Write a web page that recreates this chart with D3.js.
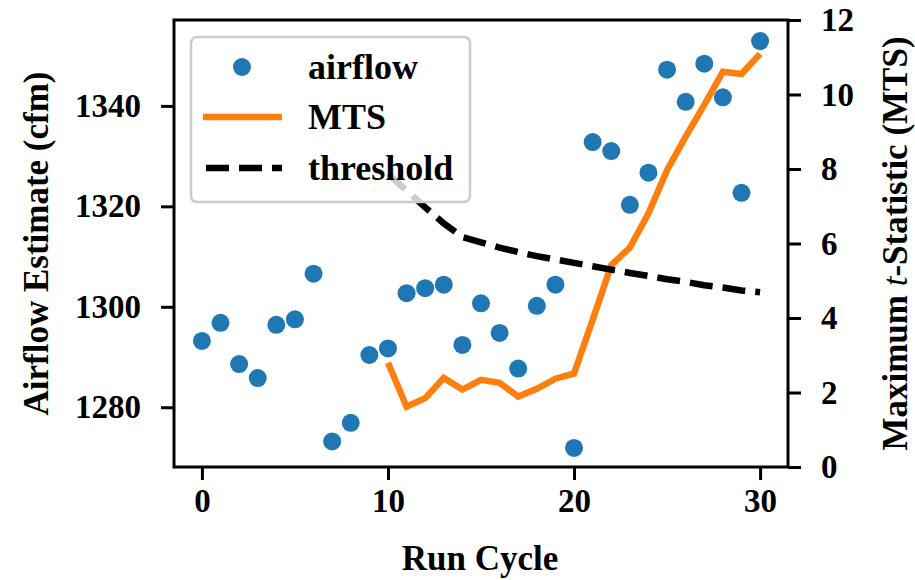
<!DOCTYPE html>
<html>
<head>
<meta charset="utf-8">
<script src="https://cdn.jsdelivr.net/npm/d3@7"></script>
<style>
  body { margin: 0; background: #fff; }
  svg { display: block; }
  text { font-family: "Liberation Serif", "Times New Roman", serif; font-weight: bold; fill: #000; }
</style>
</head>
<body>
<svg id="chart" width="915" height="580"></svg>
<script>
// ---- data ----
const runCycle = d3.range(0, 31);
const airflow = [1293.2, 1296.8, 1288.6, 1285.8, 1296.4, 1297.5, 1306.6, 1273.2, 1276.9, 1290.4,
                 1291.7, 1302.7, 1303.7, 1304.4, 1292.4, 1300.7, 1294.8, 1287.7, 1300.2, 1304.4,
                 1271.9, 1332.8, 1331.0, 1320.3, 1326.7, 1347.2, 1340.8, 1348.4, 1341.7, 1322.7,
                 1352.9];
const mtsCycle = d3.range(10, 31);
const mts = [2.80, 1.62, 1.85, 2.39, 2.08, 2.34, 2.26, 1.89, 2.10, 2.37,
             2.51, 3.95, 5.42, 5.89, 6.81, 7.97, 8.87, 9.72, 10.61, 10.55, 11.09];
const threshold = [7.87, 7.42, 6.97, 6.54, 6.17, 6.03, 5.89, 5.77, 5.66, 5.57,
                   5.48, 5.39, 5.30, 5.21, 5.13, 5.04, 4.97, 4.88, 4.82, 4.74, 4.69];
const xTicks = [0, 10, 20, 30];
const yLeftTicks = [1280, 1300, 1320, 1340];
const yRightTicks = [0, 2, 4, 6, 8, 10, 12];
const legendLabels = ["airflow", "MTS", "threshold"];

// ---- layout ----
const svg = d3.select("#chart");
const L = 174, R = 788, T = 20, B = 467;
const blue = "#1f77b4", orange = "#ff7f0e";

const x = d3.scaleLinear().domain([-1.5, 31.5]).range([L, R]);
const yL = d3.scaleLinear().domain([1268.1, 1357.1]).range([B, T]);
const yR = d3.scaleLinear().domain([0, 12]).range([B, T]);

// airflow points
svg.append("g").selectAll("circle")
  .data(runCycle.map((c, i) => [c, airflow[i]]))
  .join("circle")
  .attr("cx", d => x(d[0])).attr("cy", d => yL(d[1]))
  .attr("r", 9).attr("fill", blue);

// MTS line
svg.append("path")
  .datum(mtsCycle.map((c, i) => [c, mts[i]]))
  .attr("fill", "none").attr("stroke", orange).attr("stroke-width", 6.5)
  .attr("stroke-linejoin", "miter")
  .attr("d", d3.line().x(d => x(d[0])).y(d => yR(d[1])));

// threshold line
svg.append("path")
  .datum(mtsCycle.map((c, i) => [c, threshold[i]]))
  .attr("fill", "none").attr("stroke", "#000").attr("stroke-width", 6.5)
  .attr("stroke-dasharray", "23,10")
  .attr("d", d3.line().x(d => x(d[0])).y(d => yR(d[1])));

// axes
const fontTick = 33;
const gx = svg.append("g").attr("transform", `translate(0,${B})`)
  .call(d3.axisBottom(x).tickValues(xTicks).tickFormat(d3.format("d")).tickSize(13).tickPadding(9));
const gl = svg.append("g").attr("transform", `translate(${L},0)`)
  .call(d3.axisLeft(yL).tickValues(yLeftTicks).tickFormat(d3.format("d")).tickSize(13).tickPadding(20));
const gr = svg.append("g").attr("transform", `translate(${R},0)`)
  .call(d3.axisRight(yR).tickValues(yRightTicks).tickFormat(d3.format("d")).tickSize(13).tickPadding(20));
[gx, gl, gr].forEach(g => {
  g.select(".domain").remove();
  g.selectAll(".tick line").attr("stroke", "#000").attr("stroke-width", 3);
  g.selectAll(".tick text").attr("font-size", fontTick)
    .attr("font-family", "Liberation Serif").attr("font-weight", "bold").attr("fill", "#000");
});

// frame
svg.append("rect").attr("x", L).attr("y", T).attr("width", R - L).attr("height", B - T)
  .attr("fill", "none").attr("stroke", "#000").attr("stroke-width", 3);

// axis labels
svg.append("text").attr("x", (L + R) / 2 - 1).attr("y", 570)
  .attr("text-anchor", "middle").attr("font-size", 35).text("Run Cycle");
svg.append("text").attr("transform", `translate(48,${(T + B) / 2}) rotate(-90)`)
  .attr("text-anchor", "middle").attr("font-size", 35).text("Airflow Estimate (cfm)");
const rl = svg.append("text").attr("transform", `translate(907,${(T + B) / 2}) rotate(-90)`)
  .attr("text-anchor", "middle").attr("font-size", 35);
rl.append("tspan").text("Maximum ");
rl.append("tspan").attr("font-style", "italic").attr("font-weight", "normal").text("t");
rl.append("tspan").text("-Statistic (MTS)");

// legend
const lg = svg.append("g");
lg.append("rect").attr("x", 191).attr("y", 37).attr("width", 279).attr("height", 165).attr("rx", 6)
  .attr("fill", "#fff").attr("fill-opacity", 0.8).attr("stroke", "#cccccc").attr("stroke-width", 2.5);
const rows = [67, 117, 168];
lg.append("circle").attr("cx", 242).attr("cy", rows[0]).attr("r", 9).attr("fill", blue);
lg.append("line").attr("x1", 203).attr("x2", 282).attr("y1", rows[1]).attr("y2", rows[1])
  .attr("stroke", orange).attr("stroke-width", 6.5);
lg.append("line").attr("x1", 206).attr("x2", 282).attr("y1", rows[2]).attr("y2", rows[2])
  .attr("stroke", "#000").attr("stroke-width", 6.5).attr("stroke-dasharray", "23,10");
lg.selectAll("text.lab").data(legendLabels).join("text").attr("class", "lab")
  .attr("x", 308).attr("y", (d, i) => rows[i] + 12).attr("font-size", 36).text(d => d);
</script>
</body>
</html>
